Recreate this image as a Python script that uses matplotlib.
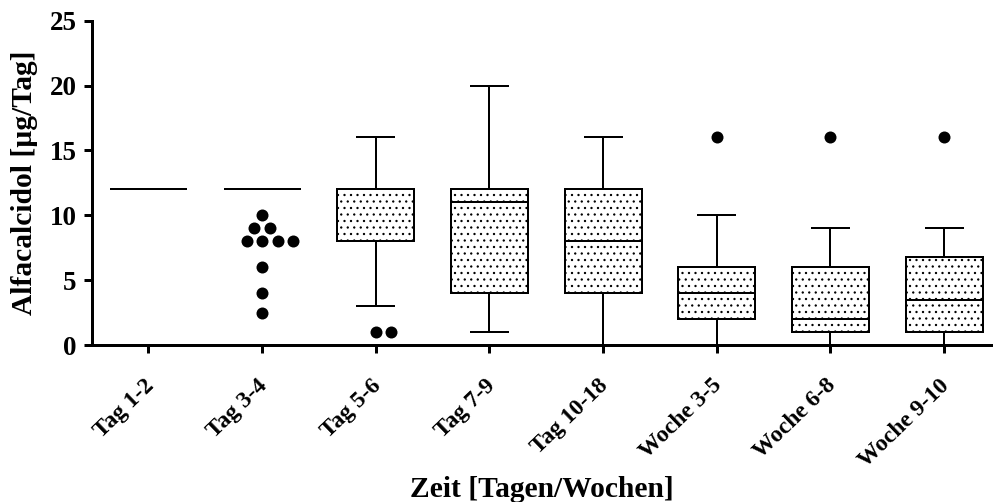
import numpy as np
import matplotlib
matplotlib.use("Agg")
import matplotlib.pyplot as plt
import matplotlib.transforms as mtransforms

# === Daten ===
gruppen = ["Tag 1-2", "Tag 3-4", "Tag 5-6", "Tag 7-9", "Tag 10-18",
           "Woche 3-5", "Woche 6-8", "Woche 9-10"]
minimum = [12, 12, 3, 1, 0, 0, 0, 0]
q1 = [12, 12, 8, 4, 4, 2, 1, 1]
median = [12, 12, 12, 11, 8, 4, 2, 3.5]
q3 = [12, 12, 12, 12, 12, 6, 6, 6.75]
maximum = [12, 12, 16, 20, 16, 10, 9, 9]
ausreisser = [
    [],
    [10, 9, 9, 8, 8, 8, 8, 6, 4, 2.5],
    [1, 1],
    [],
    [],
    [16],
    [16],
    [16],
]

# dpi 117, damit das Punktraster (hatch) etwa 6.5 px Abstand hat
DPI = 117
PX = 72 / DPI   # 1 Pixel in Punkt

plt.rcParams['font.family'] = ['Liberation Serif', 'DejaVu Serif']
plt.rcParams['font.weight'] = 'bold'
plt.rcParams['hatch.linewidth'] = 1.0 * PX

fig = plt.figure(figsize=(993 / DPI, 502 / DPI), dpi=DPI)
ax = fig.add_axes([0.0923, 0.3127, 0.9077, 0.6461])
ax.set_xlim(-0.5, 7.43)
ax.set_ylim(0, 25)

pos = np.arange(len(gruppen))
stats = []
for i in range(len(gruppen)):
    stats.append(dict(whislo=minimum[i], q1=q1[i], med=median[i], q3=q3[i],
                      whishi=maximum[i], fliers=[], label=gruppen[i]))

lw = 2.0 * PX
bp = ax.bxp(stats, positions=pos, widths=0.677, capwidths=0.325,
            patch_artist=True, showfliers=False,
            boxprops=dict(facecolor='white', edgecolor='black', linewidth=lw, hatch='...'),
            medianprops=dict(color='black', linewidth=lw),
            whiskerprops=dict(color='black', linewidth=lw),
            capprops=dict(color='black', linewidth=lw))

# === Ausreisser als Punkte (einfacher Swarm gegen Ueberlappung) ===
durchm_px = 12
abstand_px = 15.6
p0 = ax.transData.transform((0, 0))
p1 = ax.transData.transform((1, 1))
px_x = p1[0] - p0[0]
px_y = p1[1] - p0[1]
kandidaten = [0]
for n in range(1, 20):
    kandidaten += [n, -n]
for i, werte in enumerate(ausreisser):
    platziert = []
    for w in sorted(werte, reverse=True):
        for k in kandidaten:
            off = k * abstand_px / 2
            ok = all(np.hypot(off - ox, (w - oy) * px_y) >= abstand_px * 0.95
                     for ox, oy in platziert)
            if ok:
                platziert.append((off, w))
                break
    if platziert:
        xs = [i + p[0] / px_x for p in platziert]
        ys = [p[1] for p in platziert]
        ax.scatter(xs, ys, s=(durchm_px * PX) ** 2, color='black',
                   linewidths=0, zorder=3, clip_on=False)

# === Achsen ===
for s in ['top', 'right']:
    ax.spines[s].set_visible(False)
for s in ['left', 'bottom']:
    ax.spines[s].set_linewidth(3 * PX)
ax.set_yticks([0, 5, 10, 15, 20, 25])
ax.tick_params(axis='both', direction='out', length=8 * PX, width=3 * PX)
ax.tick_params(axis='y', pad=7 * PX, labelsize=27 * PX)
ax.set_xticks(pos)
ax.set_xticklabels(gruppen, rotation=44, ha='right', va='top',
                   rotation_mode='anchor')
ax.tick_params(axis='x', pad=22 * PX, labelsize=23.5 * PX)
verschub = mtransforms.ScaledTranslation(-5 / DPI, 0, fig.dpi_scale_trans)
for lab in ax.get_xticklabels():
    lab.set_transform(lab.get_transform() + verschub)

ax.set_ylabel("Alfacalcidol [µg/Tag]", fontsize=29.5 * PX, fontweight='bold')
ax.yaxis.set_label_coords(-0.06, 0.5)
ax.set_xlabel("Zeit [Tagen/Wochen]", fontsize=29.5 * PX, fontweight='bold')
ax.xaxis.set_label_coords(0.5, -0.405)

fig.savefig("out.png", dpi=DPI)
